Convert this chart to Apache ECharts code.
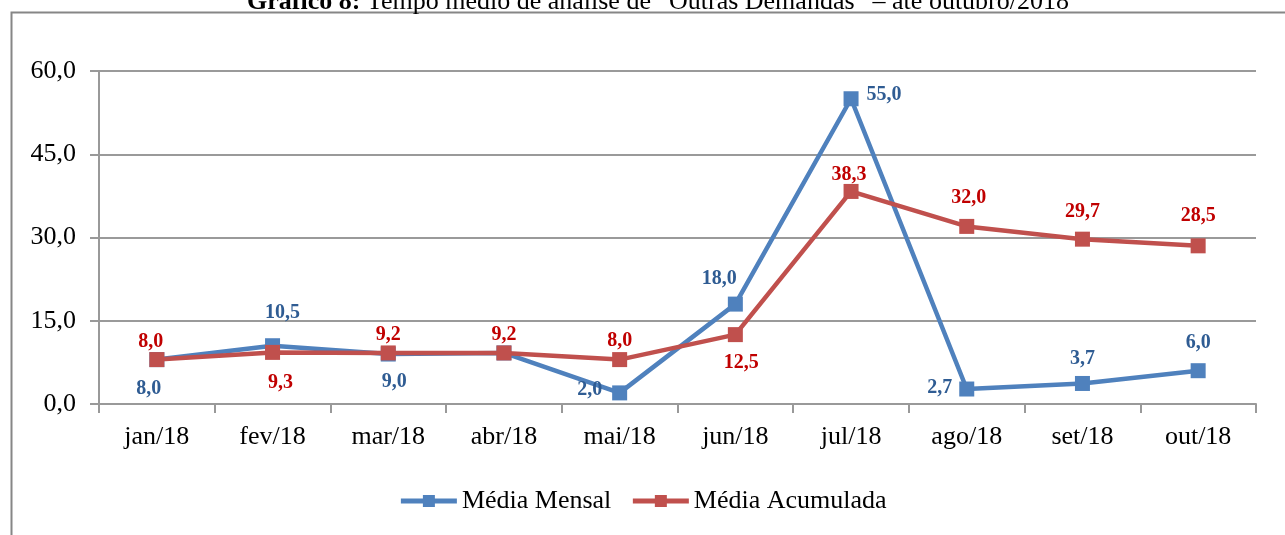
<!DOCTYPE html>
<html>
<head>
<meta charset="utf-8">
<script src="https://cdn.jsdelivr.net/npm/echarts@6/dist/echarts.min.js"></script>
<style>
  html, body { margin: 0; padding: 0; background: #fff; }
  #chart { width: 1285px; height: 535px; }
</style>
</head>
<body>
<div id="chart"></div>
<script>
var months = ["jan/18", "fev/18", "mar/18", "abr/18", "mai/18", "jun/18", "jul/18", "ago/18", "set/18", "out/18"];
var mediaMensal = [8.0, 10.5, 9.0, 9.2, 2.0, 18.0, 55.0, 2.7, 3.7, 6.0];
var mediaAcumulada = [8.0, 9.3, 9.2, 9.2, 8.0, 12.5, 38.3, 32.0, 29.7, 28.5];
var yTicks = [0, 15, 30, 45, 60];

// where each value label sits (kept apart from the values)
var mensalLabelPos = [
  ["bottom", [-8, 4]], ["top", [10, -7]], ["bottom", [6, 2]], null, ["left", [-2, -3]],
  ["top", [-16, 0]], ["right", [0, -4]], ["left", [1, -1]], ["top", [0, 1]], ["top", [0, -2]]
];
var acumLabelPos = [
  ["top", [-6, 8]], ["bottom", [8, 5]], ["top", [0, 7]], ["top", [0, 7]], ["top", [0, 7]],
  ["bottom", [6, 3]], ["top", [-2, 9]], ["top", [2, -3]], ["top", [0, -2]], ["top", [0, -4]]
];

var serif = "'Liberation Serif', 'DejaVu Serif', serif";
var fmt = function (v) { return Number(v).toFixed(1).replace(".", ","); };

function buildData(values, pos, color) {
  return values.map(function (v, i) {
    var p = pos[i];
    if (!p) return { value: v, label: { show: false } };
    return {
      value: v,
      label: { show: true, position: p[0], offset: p[1], color: color }
    };
  });
}

var myChart = echarts.init(document.getElementById("chart"));
var option = {
  backgroundColor: "#fff",
  animation: false,
  title: {
    left: 653,
    textAlign: "center",
    top: -16,
    text: "{b|Gráfico 8:} Tempo médio de análise de \u201cOutras Demandas\u201d – até outubro/2018",
    textStyle: {
      fontFamily: serif, fontSize: 26, fontWeight: "normal", color: "#000",
      rich: { b: { fontFamily: serif, fontSize: 26, fontWeight: "bold", color: "#000" } }
    }
  },
  graphic: [{
    type: "rect",
    shape: { x: 11.5, y: 12.5, width: 1300, height: 560 },
    style: { fill: "none", stroke: "#868686", lineWidth: 2 },
    silent: true
  }],
  grid: { left: 99, right: 29, top: 71, bottom: 131 },
  legend: {
    bottom: 16,
    left: "center",
    itemWidth: 56,
    itemHeight: 15,
    itemGap: 19,
    lineStyle: { width: 5 },
    textStyle: { fontFamily: serif, fontSize: 26, color: "#000" },
    data: ["Média Mensal", "Média Acumulada"]
  },
  xAxis: {
    type: "category",
    data: months,
    boundaryGap: true,
    axisLine: { lineStyle: { color: "#999", width: 2 } },
    axisTick: { show: true, length: 9, lineStyle: { color: "#999", width: 2 } },
    axisLabel: { fontFamily: serif, fontSize: 26, color: "#000", margin: 20 }
  },
  yAxis: {
    type: "value",
    min: yTicks[0],
    max: yTicks[yTicks.length - 1],
    interval: yTicks[1] - yTicks[0],
    axisLine: { show: true, lineStyle: { color: "#999", width: 2 } },
    axisTick: { show: true, length: 9, lineStyle: { color: "#999", width: 2 } },
    splitLine: { lineStyle: { color: "#9a9a9a", width: 2 } },
    axisLabel: {
      fontFamily: serif, fontSize: 26, color: "#000", margin: 23,
      formatter: fmt
    }
  },
  series: [
    {
      name: "Média Mensal",
      type: "line",
      data: buildData(mediaMensal, mensalLabelPos, "#2F5C93"),
      symbol: "rect",
      symbolSize: 15,
      itemStyle: { color: "#4F81BD" },
      lineStyle: { color: "#4F81BD", width: 4.5 },
      label: {
        show: true, fontFamily: serif, fontSize: 20, fontWeight: "bold",
        distance: 8,
        formatter: function (p) { return fmt(p.value); }
      },
      z: 2
    },
    {
      name: "Média Acumulada",
      type: "line",
      data: buildData(mediaAcumulada, acumLabelPos, "#C00000"),
      symbol: "rect",
      symbolSize: 15,
      itemStyle: { color: "#C0504D" },
      lineStyle: { color: "#C0504D", width: 4.5 },
      label: {
        show: true, fontFamily: serif, fontSize: 20, fontWeight: "bold",
        distance: 8,
        formatter: function (p) { return fmt(p.value); }
      },
      z: 3
    }
  ]
};
option && myChart.setOption(option);
</script>
</body>
</html>
